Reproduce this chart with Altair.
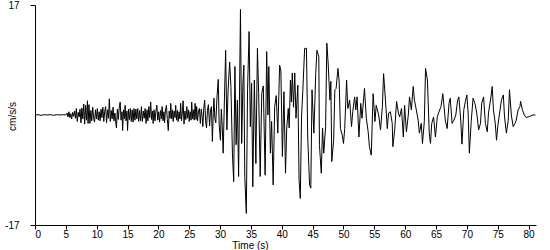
import altair as alt
import pandas as pd

# Time (s) of each sample
times = [
    0.0, 0.5, 1.0, 1.5, 2.0, 2.5, 3.0, 3.5, 4.0, 4.5, 5.0,
    5.2, 5.35, 5.5, 5.65, 5.8, 5.95, 6.1, 6.25, 6.4, 6.55,
    6.7, 6.85, 7.0, 7.15, 7.3, 7.45, 7.6, 7.75, 7.9, 8.05,
    8.2, 8.35, 8.5, 8.6, 8.75, 8.9, 9.05, 9.2, 9.35, 9.5,
    9.65, 9.8, 9.95, 10.1, 10.25, 10.4, 10.55, 10.7, 10.85, 11.0,
    11.15, 11.3, 11.45, 11.6, 11.75, 11.9, 12.05, 12.2, 12.35, 12.5,
    12.65, 12.8, 12.95, 13.1, 13.2, 13.35, 13.5, 13.65, 13.8, 13.95,
    14.1, 14.2, 14.35, 14.5, 14.6, 14.75, 14.9, 15.0, 15.15, 15.3,
    15.45, 15.6, 15.75, 15.9, 16.05, 16.2, 16.35, 16.5, 16.65, 16.8,
    16.95, 17.1, 17.25, 17.4, 17.55, 17.7, 17.85, 18.0, 18.15, 18.3,
    18.45, 18.6, 18.75, 18.9, 19.05, 19.15, 19.3, 19.45, 19.6, 19.75,
    19.9, 20.05, 20.2, 20.35, 20.5, 20.6, 20.75, 20.9, 21.0, 21.15,
    21.3, 21.45, 21.6, 21.75, 21.9, 22.0, 22.15, 22.3, 22.4, 22.55,
    22.7, 22.8, 22.95, 23.1, 23.2, 23.35, 23.5, 23.6, 23.75, 23.9,
    24.0, 24.15, 24.3, 24.45, 24.6, 24.75, 24.9, 25.0, 25.15, 25.3,
    25.4, 25.55, 25.7, 25.8, 25.95, 26.1, 26.2, 26.35, 26.5, 26.65,
    26.8, 26.95, 27.1, 27.2, 27.35, 27.5, 27.65, 27.8, 27.95, 28.1,
    28.3, 28.45, 28.6, 28.75, 28.9, 29.0, 29.15, 29.3, 29.5, 29.7,
    29.85, 30.05, 30.2, 30.35, 30.5, 30.7, 30.9, 31.1, 31.3, 31.55,
    31.75, 32.0, 32.2, 32.4, 32.6, 32.8, 33.0, 33.3, 33.5, 33.7,
    33.85, 34.0, 34.25, 34.45, 34.7, 34.9, 35.1, 35.3, 35.55, 35.8,
    36.05, 36.25, 36.5, 36.75, 37.0, 37.3, 37.55, 37.75, 37.9, 38.15,
    38.35, 38.6, 38.85, 39.1, 39.35, 39.65, 39.85, 40.1, 40.35, 40.6,
    40.8, 41.05, 41.2, 41.4, 41.55, 41.7, 41.9, 42.1, 42.3, 42.6,
    42.8, 43.0, 43.2, 43.4, 43.7, 44.0, 44.2, 44.5, 44.7, 44.9,
    45.2, 45.5, 45.7, 46.0, 46.1, 46.4, 46.6, 46.8, 47.1, 47.3,
    47.5, 47.8, 47.95, 48.1, 48.4, 48.6, 48.8, 49.1, 49.3, 49.5,
    49.8, 50.0, 50.2, 50.5, 50.7, 51.0, 51.3, 51.5, 51.8, 52.0,
    52.2, 52.5, 52.8, 53.0, 53.4, 53.7, 54.0, 54.2, 54.5, 54.8,
    55.1, 55.3, 55.7, 56.0, 56.3, 56.5, 56.8, 57.1, 57.3, 57.6,
    57.9, 58.0, 58.3, 58.6, 58.9, 59.1, 59.4, 59.7, 59.9, 60.2,
    60.5, 60.7, 61.0, 61.3, 61.5, 61.8, 62.1, 62.3, 62.6, 62.8,
    63.1, 63.3, 63.6, 63.9, 64.1, 64.3, 64.6, 64.9, 65.2, 65.4,
    65.8, 66.1, 66.5, 66.8, 67.1, 67.3, 67.6, 67.9, 68.2, 68.5,
    68.7, 69.0, 69.2, 69.5, 69.8, 70.0, 70.2, 70.4, 70.7, 71.0,
    71.3, 71.6, 71.9, 72.2, 72.4, 72.7, 73.0, 73.3, 73.5, 73.9,
    74.1, 74.3, 74.6, 74.8, 75.0, 75.3, 75.6, 75.9, 76.1, 76.4,
    76.7, 76.9, 77.2, 77.5, 77.8, 78.0, 78.3, 78.6, 78.7, 79.0,
    79.3, 79.6, 80.2, 80.7, 81.1,
]

# Acceleration (cm/s/s)
accel = [
    0.0, 0.05, -0.05, 0.05, 0.0, 0.05, -0.05, 0.05, 0.0, 0.05, 0.0,
    0.3, -0.3, 0.5, -0.4, 0.2, -0.6, 0.4, -0.2, 0.6, -0.5,
    1.0, -1.0, 0.4, -0.3, 0.9, -1.2, 1.1, -0.6, 1.7, -1.4,
    1.5, -0.8, 2.2, -1.3, 1.6, -1.3, 0.7, -0.9, 1.2, -0.5,
    -1.1, 0.8, -0.6, 1.0, -0.8, 0.5, -0.9, 0.9, -0.4, 1.2,
    -1.0, 0.6, 1.3, -1.2, 0.8, -0.5, 2.5, -1.0, 0.7, -0.6,
    1.2, -0.9, 0.3, -1.3, -2.0, 0.9, -0.7, 1.1, 2.0, -0.8,
    0.5, -2.4, 0.8, -0.6, 1.5, -0.9, 0.6, -2.4, 0.9, -0.7,
    1.0, -1.0, 0.8, -1.1, 1.0, -0.8, 0.9, -0.6, 1.0, -1.0,
    0.7, -0.9, 1.3, -1.0, 0.6, -0.5, 1.0, -1.3, 0.8, -0.9,
    1.3, -0.4, 2.0, -0.7, 0.6, -1.3, 0.8, -0.9, 0.6, 1.5,
    -0.8, 0.5, -1.1, 0.7, -0.6, 1.3, -0.9, 0.5, -1.2, 0.8,
    1.5, -0.7, -2.4, 0.6, -0.5, 1.8, -0.6, 0.8, -1.0, 0.6,
    -0.4, 1.5, -0.8, 0.7, -1.0, 0.5, -0.6, 1.8, -0.9, 0.7,
    2.2, -1.4, 0.6, -0.7, 1.3, -0.5, 0.8, -1.0, 0.5, -0.8,
    2.0, -0.6, 0.8, -0.8, 1.8, -0.7, 1.3, -0.9, 0.6, 1.0,
    -1.3, 0.9, -0.4, -1.8, 1.0, 2.3, -0.9, -2.0, 0.7, 1.6,
    -1.7, 0.8, 1.3, -4.1, 0.4, 2.6, -0.5, -1.2, 2.8, 5.5,
    -1.5, -3.9, 0.9, -1.8, -5.9, 2.3, 10.0, -2.3, 3.9, 8.2,
    4.4, -6.0, -10.3, 7.5, -4.6, 2.3, -9.5, 16.3, -4.4, 4.9,
    7.7, -9.5, -15.2, 3.9, 12.9, -1.8, 4.9, -11.1, 5.4, -7.5,
    10.3, 3.3, -9.5, 3.3, 4.5, -9.3, 9.8, 0.0, 7.5, -5.9,
    -1.0, -10.8, 1.3, 3.0, -2.8, 7.7, 6.8, -6.4, 3.6, -9.0,
    -2.0, 1.0, -2.0, 5.4, 2.0, 6.5, 1.2, 6.5, -0.5, 4.6,
    -10.0, -12.9, -0.3, 3.6, 10.3, 10.3, -3.4, -10.8, -11.3, 3.9,
    -2.8, 6.4, 10.0, 9.0, -4.6, -9.0, -2.0, -5.9, -1.8, 11.1,
    8.2, 2.3, 5.2, -7.2, -3.9, 3.9, 4.1, 7.2, 5.2, -2.1,
    -3.1, -4.4, -2.1, 5.4, 1.0, 2.3, -1.8, 0.5, 2.8, 0.8,
    2.8, -3.4, 1.8, -0.5, 4.1, -0.5, -2.6, -4.9, -6.2, 3.3,
    -1.0, 1.5, 0.0, -2.3, 1.3, 6.4, 2.3, -2.1, 0.3, 0.5,
    -1.3, -4.9, -2.3, 2.1, 0.3, -0.3, 1.0, -3.4, 1.5, -2.6,
    0.0, 2.8, 0.8, 4.4, 2.3, 0.8, -0.8, -2.8, -1.3, -4.4,
    -1.0, 7.2, 5.4, -2.8, -4.4, -1.3, -0.3, -3.4, -0.3, 0.3,
    1.3, 3.3, -0.8, -2.1, 1.8, 2.6, -1.3, -0.8, 0.0, 2.3,
    2.8, -0.8, -4.5, 0.8, 2.3, 3.1, 0.3, -5.9, -1.0, 2.6,
    1.8, 0.3, -2.3, -1.3, 1.8, 2.8, -1.3, -2.6, 0.3, 2.8,
    4.4, 0.8, -1.3, -3.9, -1.8, 0.3, 2.3, 3.1, -0.3, -2.8,
    -0.8, 3.9, 0.0, -1.8, -1.3, -0.8, 0.8, 1.3, 2.1, 0.8,
    0.0, -0.4, -0.2, 0.0, 0.0,
]

x_ticks = [0, 5, 10, 15, 20, 25, 30, 35, 40, 45, 50, 55, 60, 65, 70, 75, 80]
y_ticks = [-17, 17]

df = pd.DataFrame({"t": times, "a": accel})

chart = (
    alt.Chart(df)
    .mark_line(color="black", strokeWidth=1)
    .encode(
        x=alt.X(
            "t:Q",
            scale=alt.Scale(domain=[0, 81.2], nice=False, zero=False),
            axis=alt.Axis(
                values=x_ticks,
                title="Time (s)",
                grid=False,
                tickSize=4,
                labelPadding=0,
                labelFontSize=10,
                titleX=215,
                titleY=20,
                titleAlign="center",
                titleBaseline="middle",
                labelOverlap=False,
            ),
        ),
        y=alt.Y(
            "a:Q",
            scale=alt.Scale(domain=[-17, 17], nice=False),
            axis=alt.Axis(
                values=y_ticks,
                title="cm/s/s",
                grid=False,
                tickSize=5,
                labelPadding=11,
                labelFontSize=10,
                labelExpr="'' + datum.value",
                titleX=-23,
                titleY=111,
                titleAlign="center",
                titleBaseline="middle",
                labelOverlap=False,
            ),
        ),
    )
    .properties(
        width=501,
        height=220,
        padding={"left": 35, "top": 5, "right": 14, "bottom": 25},
        autosize="none",
    )
    .configure_view(stroke=None)
    .configure_axis(
        domainColor="black",
        tickColor="black",
        labelColor="black",
        titleColor="black",
        labelFont="Liberation Sans",
        titleFont="Liberation Sans",
        titleFontSize=10,
        titleFontWeight="normal",
    )
)

chart.save("out.html", embed_options={"renderer": "svg", "actions": False})
